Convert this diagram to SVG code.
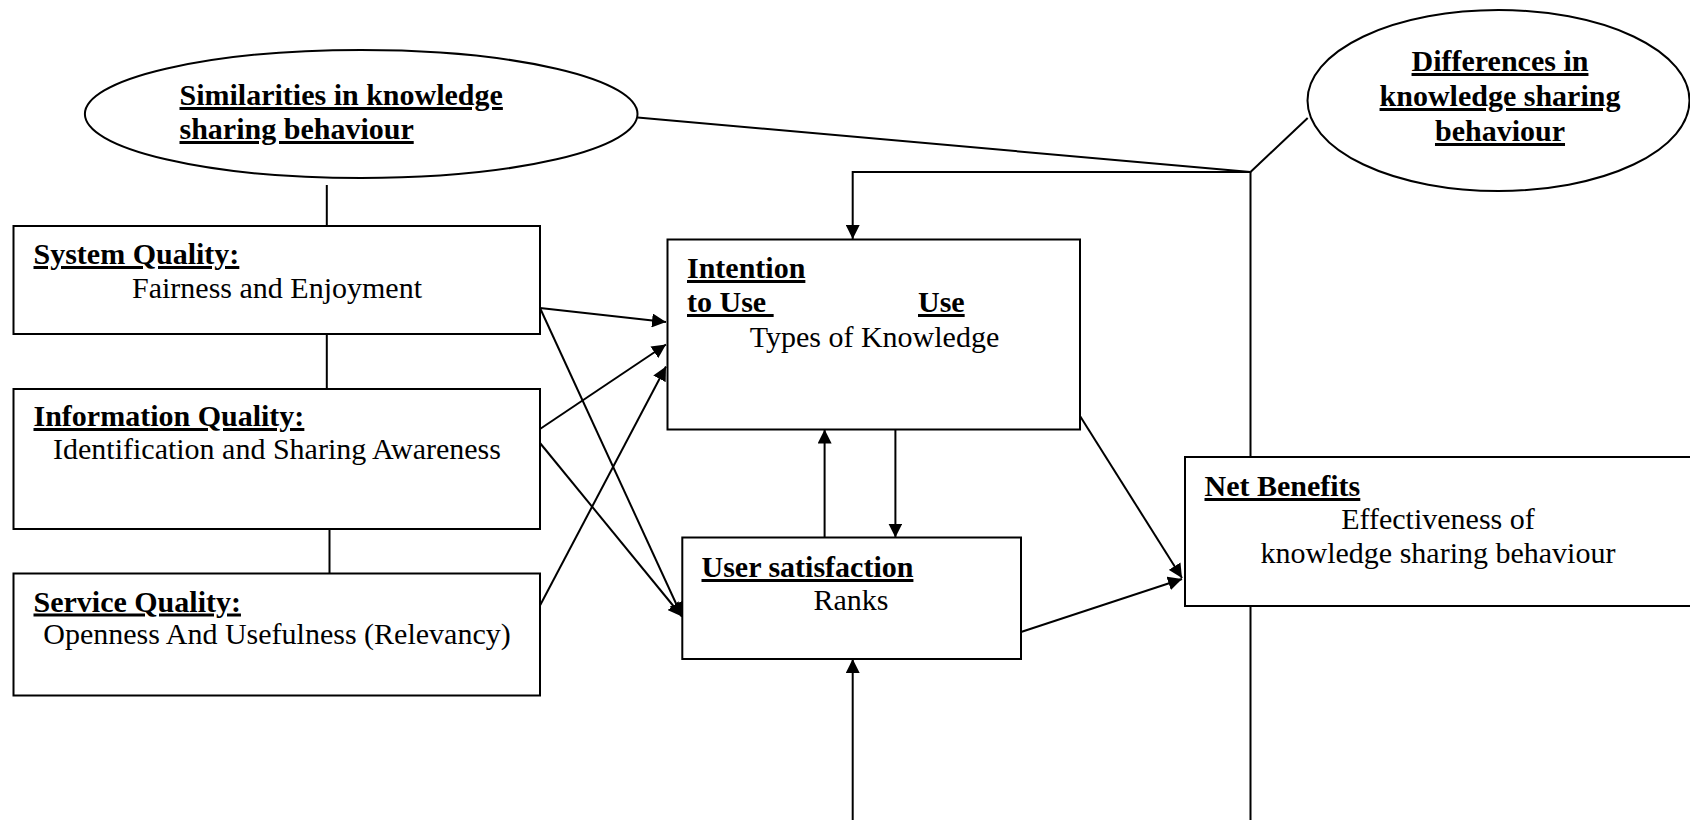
<svg xmlns="http://www.w3.org/2000/svg" width="1690" height="820" viewBox="0 0 1690 820">
  <style>
    .box { fill: #ffffff; stroke: #000000; stroke-width: 2; }
    .oval { fill: #ffffff; stroke: #000000; stroke-width: 2; }
    .wire { fill: none; stroke: #000000; stroke-width: 2; }
    .arrow { fill: none; stroke: #000000; stroke-width: 2; marker-end: url(#head); }
    .t { font-family: "Liberation Serif", "Times New Roman", serif; font-size: 30px; fill: #000000; }
    .h { font-weight: bold; text-decoration: underline; text-decoration-thickness: 3px; text-underline-offset: 3px; }
    .c { text-anchor: middle; }
  </style>
  <defs>
    <marker id="head" markerUnits="userSpaceOnUse" markerWidth="14" markerHeight="14" refX="14" refY="7" orient="auto">
      <path d="M0,0 L14,7 L0,14 Z" fill="#000000"/>
    </marker>
  </defs>

  <rect width="1690" height="820" fill="#ffffff"/>

  <!-- connectors -->
  <g id="connectors">
    <path class="wire" d="M637.5,117.5 L1250.5,172"/>
    <path class="wire" d="M1307.7,118 L1250.5,172"/>
    <path class="wire" d="M1250.5,172 V820"/>
    <path class="arrow" d="M1250.5,172 H852.7 V239"/>
    <path class="wire" d="M326.8,185 V226"/>
    <path class="wire" d="M326.8,334 V389"/>
    <path class="wire" d="M329.5,529 V573.5"/>
    <path class="arrow" d="M540,308 L666,322"/>
    <path class="arrow" d="M540,308 L682,616.5"/>
    <path class="arrow" d="M540,429 L666,344.5"/>
    <path class="arrow" d="M540,443 L682,616.5"/>
    <path class="arrow" d="M540,605.5 L666,366.5"/>
    <path class="arrow" d="M895.4,429.5 V537.5"/>
    <path class="arrow" d="M824.6,537.5 V429.5"/>
    <path class="arrow" d="M852.7,820 V659"/>
    <path class="arrow" d="M1080,416 L1182,578"/>
    <path class="arrow" d="M1021,632 L1182,579"/>
  </g>

  <g id="similarities">
    <ellipse class="oval" cx="361.2" cy="114" rx="276.3" ry="64"/>
    <text class="t h" x="179.5" y="105">Similarities in knowledge</text>
    <text class="t h" x="179.5" y="139">sharing behaviour</text>
  </g>

  <g id="differences">
    <ellipse class="oval" cx="1498.5" cy="100.5" rx="191" ry="90.5"/>
    <text class="t h c" x="1500" y="71">Differences in</text>
    <text class="t h c" x="1500" y="106">knowledge sharing</text>
    <text class="t h c" x="1500" y="141">behaviour</text>
  </g>

  <g id="system-quality">
    <rect class="box" x="13.5" y="226" width="526.5" height="108"/>
    <text class="t h" x="33.5" y="264">System Quality:</text>
    <text class="t c" x="277" y="298">Fairness and Enjoyment</text>
  </g>

  <g id="information-quality">
    <rect class="box" x="13.5" y="389" width="526.5" height="140"/>
    <text class="t h" x="33.5" y="426">Information Quality:</text>
    <text class="t c" x="277" y="459">Identification and Sharing Awareness</text>
  </g>

  <g id="service-quality">
    <rect class="box" x="13.5" y="573.5" width="526.5" height="122"/>
    <text class="t h" x="33.5" y="611.5">Service Quality:</text>
    <text class="t c" x="277" y="644">Openness And Usefulness (Relevancy)</text>
  </g>

  <g id="intention-use">
    <rect class="box" x="667.5" y="239.5" width="412.5" height="190"/>
    <text class="t h" x="687" y="278">Intention</text>
    <text class="t h" x="687" y="312" style="white-space:pre" xml:space="preserve">to Use </text>
    <text class="t h" x="918" y="312">Use</text>
    <text class="t c" x="874.5" y="347">Types of Knowledge</text>
  </g>

  <g id="user-satisfaction">
    <rect class="box" x="682.3" y="537.5" width="338.7" height="121.5"/>
    <text class="t h" x="701.5" y="577">User satisfaction</text>
    <text class="t c" x="851" y="610">Ranks</text>
  </g>

  <g id="net-benefits">
    <rect class="box" x="1185" y="457" width="520" height="149"/>
    <text class="t h" x="1204.5" y="496">Net Benefits</text>
    <text class="t c" x="1438" y="529">Effectiveness of</text>
    <text class="t c" x="1438" y="563">knowledge sharing behaviour</text>
  </g>
</svg>
